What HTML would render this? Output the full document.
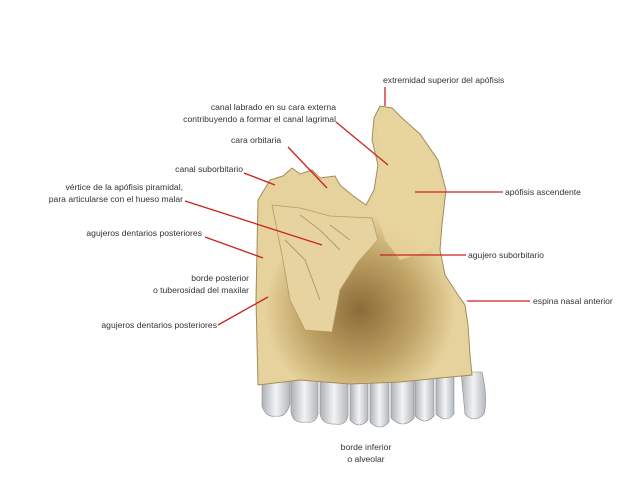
<!DOCTYPE html>
<html><head><meta charset="utf-8"><style>
html,body{margin:0;padding:0;background:#fff;}
svg{display:block}
text{font-family:"Liberation Sans",sans-serif;font-size:8.6px;fill:#333;}
</style></head><body>
<svg width="638" height="479" viewBox="0 0 638 479">
<defs>
<radialGradient id="sh" cx="360" cy="310" r="95" gradientUnits="userSpaceOnUse">
<stop offset="0" stop-color="#8a6c38"/><stop offset="0.6" stop-color="#c0a466"/><stop offset="1" stop-color="#e6d29c"/>
</radialGradient>
<linearGradient id="tooth" x1="0" y1="0" x2="1" y2="0">
<stop offset="0" stop-color="#aeb2b6"/><stop offset="0.5" stop-color="#f2f3f4"/><stop offset="1" stop-color="#b4b8bc"/>
</linearGradient>
</defs>
<g fill="url(#tooth)" stroke="#8a8e92" stroke-width="0.6">
<path d="M262 378 h28 v26 q-4 14 -14 12 q-10 2 -14 -10z"/>
<path d="M291 380 h27 v34 q-2 10 -13 8 q-12 2 -14 -10z"/>
<path d="M320 380 h28 v36 q-2 10 -13 8 q-13 1 -15 -10z"/>
<path d="M350 382 h18 v38 q-9 10 -18 0z"/>
<path d="M370 382 h19 v40 q-9 10 -19 0z"/>
<path d="M391 380 h23 v38 q-11 12 -23 0z"/>
<path d="M415 378 h19 v38 q-9 10 -19 0z"/>
<path d="M436 376 h18 v38 q-8 10 -18 0z"/>
<path d="M461 372 h21 q6 26 2 42 q-10 10 -19 0z"/>
</g>
<path d="M258 200 L270 180 L283 176 L292 168 L300 174 L312 170 L320 178 L335 176 L340 185 L352 195 L366 205 L374 190 L378 165 L372 140 L374 118 L380 106 L392 108 L402 118 L420 134 L438 160 L446 190 L442 225 L440 250 L445 275 L458 295 L465 305 L468 325 L470 355 L472 375 L440 378 L400 382 L350 384 L300 380 L258 385 L256 300 Z" fill="url(#sh)" stroke="#a58b55" stroke-width="1"/>
<path d="M374 205 L380 150 L376 118 L392 110 L420 136 L438 165 L440 210 L430 250 L400 260 L385 240 Z" fill="#e8d49e" opacity="0.8"/>
<path d="M272 205 L300 208 L330 216 L372 218 L378 240 L358 262 L340 290 L332 332 L305 330 L290 300 L282 255 Z" fill="#e7d3a0" stroke="#b59b62" stroke-width="0.8"/>
<path d="M300 215 L320 230 L340 250 M285 240 L305 260 L320 300 M330 225 L350 240" stroke="#b39a66" fill="none" stroke-width="1"/>
<g stroke="#cc2222" stroke-width="1.3" fill="none">
<line x1="385" y1="87" x2="385" y2="106"/>
<line x1="336" y1="122" x2="388" y2="165"/>
<line x1="288" y1="147" x2="327" y2="188"/>
<line x1="244" y1="173" x2="275" y2="185"/>
<line x1="185" y1="201" x2="322" y2="245"/>
<line x1="205" y1="237" x2="263" y2="258"/>
<line x1="218" y1="325" x2="268" y2="297"/>
<line x1="415" y1="192" x2="503" y2="192"/>
<line x1="380" y1="255" x2="466" y2="255"/>
<line x1="467" y1="301" x2="530" y2="301"/>
</g>
<text x="383" y="83">extremidad superior del apófisis</text>
<text x="336" y="110" text-anchor="end">canal labrado en su cara externa</text>
<text x="336" y="122" text-anchor="end">contribuyendo a formar el canal lagrimal</text>
<text x="231" y="143">cara orbitaria</text>
<text x="243" y="172" text-anchor="end">canal suborbitario</text>
<text x="183" y="190" text-anchor="end">vértice de la apófisis piramidal,</text>
<text x="183" y="202" text-anchor="end">para articularse con el hueso malar</text>
<text x="202" y="236" text-anchor="end">agujeros dentarios posteriores</text>
<text x="249" y="281" text-anchor="end">borde posterior</text>
<text x="249" y="293" text-anchor="end">o tuberosidad del maxilar</text>
<text x="217" y="328" text-anchor="end">agujeros dentarios posteriores</text>
<text x="505" y="195">apófisis ascendente</text>
<text x="468" y="258">agujero suborbitario</text>
<text x="533" y="304">espina nasal anterior</text>
<text x="366" y="450" text-anchor="middle">borde inferior</text>
<text x="366" y="462" text-anchor="middle">o alveolar</text>
</svg>
</body></html>
